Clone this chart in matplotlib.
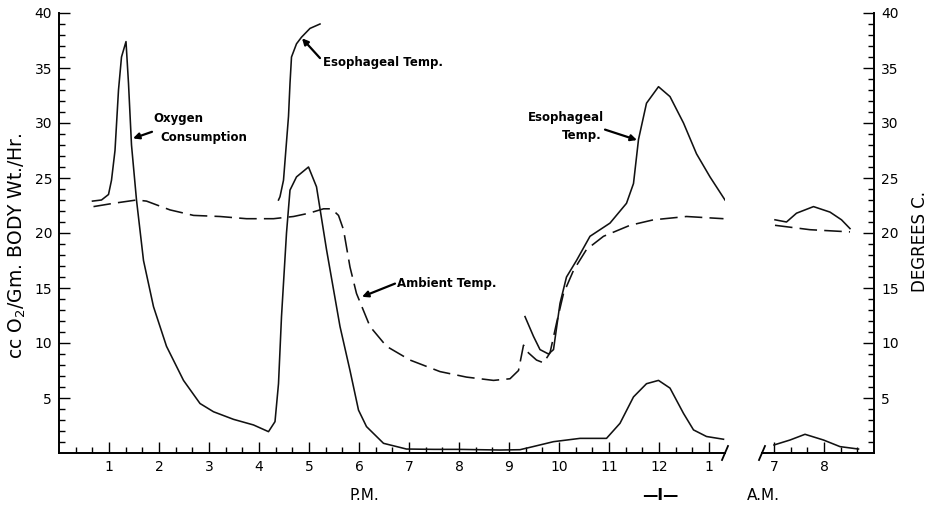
import matplotlib
matplotlib.use("Agg")
import matplotlib.pyplot as plt
import numpy as np
from matplotlib.ticker import FixedLocator

# Hours after noon (P.M. panel)
oxygen_pm_hr = [0.67, 0.85, 0.99, 1.05, 1.12, 1.19, 1.25, 1.34, 1.39, 1.45, 1.55,
                1.69, 1.89, 2.15, 2.49, 2.82, 3.09, 3.49, 3.89, 4.19, 4.32, 4.39,
                4.45, 4.55, 4.62, 4.75, 4.99, 5.15, 5.35, 5.62, 5.82, 5.99, 6.15,
                6.49, 6.95, 7.5, 8.0, 8.82, 9.22, 9.48, 9.89, 10.42, 10.95, 11.22,
                11.49, 11.75, 11.99, 12.22, 12.49, 12.69, 12.95, 13.29]
oxygen_pm = [22.9, 23.0, 23.5, 24.8, 27.5, 33.0, 36.0, 37.4, 33.6, 28.0, 23.0,
             17.5, 13.3, 9.7, 6.6, 4.5, 3.75, 3.06, 2.55, 1.94, 2.85, 6.3,
             12.4, 20.0, 23.9, 25.1, 26.0, 24.2, 18.5, 11.5, 7.5, 3.9, 2.4,
             0.88, 0.36, 0.33, 0.33, 0.27, 0.3, 0.58, 1.03, 1.33, 1.33, 2.7,
             5.1, 6.3, 6.6, 5.9, 3.6, 2.1, 1.5, 1.25]

ambient_pm_hr = [0.69, 1.09, 1.55, 1.75, 2.22, 2.69, 3.22, 3.75, 4.29, 4.69, 5.0,
                 5.29, 5.45, 5.59, 5.69, 5.82, 5.95, 6.22, 6.55, 7.02, 7.62, 8.15,
                 8.69, 9.02, 9.19, 9.29, 9.39, 9.55, 9.69, 9.82, 9.95, 10.09, 10.29,
                 10.55, 10.89, 11.42, 11.89, 12.55, 13.29]
ambient_pm = [22.4, 22.7, 23.0, 22.9, 22.1, 21.6, 21.5, 21.3, 21.3, 21.5, 21.8,
              22.2, 22.2, 21.6, 20.3, 16.9, 14.5, 11.5, 9.7, 8.45, 7.4, 6.9,
              6.6, 6.75, 7.5, 9.8, 9.1, 8.45, 8.2, 9.1, 11.8, 14.5, 16.6,
              18.5, 19.7, 20.7, 21.2, 21.5, 21.3]

esoph1_hr = [4.39, 4.42, 4.49, 4.59, 4.62, 4.65, 4.75, 4.85, 5.02, 5.22]
esoph1 = [23.0, 23.3, 24.8, 30.6, 33.6, 36.0, 37.2, 37.8, 38.6, 39.0]

esoph2_hr = [9.32, 9.49, 9.62, 9.79, 9.89, 10.02, 10.15, 10.35, 10.62, 11.02,
             11.35, 11.49, 11.59, 11.75, 11.99, 12.22, 12.49, 12.75, 13.02, 13.32]
esoph2 = [12.4, 10.6, 9.4, 9.0, 9.4, 13.6, 16.0, 17.5, 19.7, 20.9,
          22.7, 24.5, 28.5, 31.8, 33.3, 32.4, 30.0, 27.2, 25.1, 23.0]

# A.M. panel, clock hours
oxygen_am_hr = [7.0, 7.32, 7.62, 7.99, 8.32, 8.69]
oxygen_am = [0.73, 1.18, 1.7, 1.18, 0.58, 0.36]
esoph_am_hr = [7.02, 7.25, 7.45, 7.79, 8.12, 8.35, 8.52]
esoph_am = [21.2, 21.0, 21.8, 22.4, 21.9, 21.2, 20.4]
ambient_am_hr = [7.02, 7.72, 8.52]
ambient_am = [20.7, 20.3, 20.1]

pm_ticks = list(range(1, 14))
pm_labels = [str(h) for h in range(1, 13)] + ["1"]
am_ticks = [7, 8]
am_labels = ["7", "8"]
y_ticks = [5, 10, 15, 20, 25, 30, 35, 40]

plt.rcParams["font.family"] = "DejaVu Sans"

W, H = 931, 505
fig = plt.figure(figsize=(W / 100, H / 100), dpi=100)


def box(x0, x1):
    return [x0 / W, 52 / H, (x1 - x0) / W, 440 / H]


ax_pm = fig.add_axes(box(59, 725))
ax_am = fig.add_axes(box(762, 874))

solid = dict(color="#111111", lw=1.15)
dashed = dict(color="#111111", lw=1.15, dashes=(11, 4.5))

ax_pm.plot(oxygen_pm_hr, oxygen_pm, **solid)
ax_pm.plot(esoph1_hr, esoph1, **solid)
ax_pm.plot(esoph2_hr, esoph2, **solid)
ax_pm.plot(ambient_pm_hr, ambient_pm, **dashed)

ax_am.plot(oxygen_am_hr, oxygen_am, **solid)
ax_am.plot(esoph_am_hr, esoph_am, **solid)
ax_am.plot(ambient_am_hr, ambient_am, **dashed)

ax_pm.set_xlim(0, 13.32)
ax_am.set_xlim(6.76, 9.0)

for ax in (ax_pm, ax_am):
    ax.set_ylim(0, 40)
    ax.spines["top"].set_visible(False)
    for s in ax.spines.values():
        s.set_linewidth(1.4)
    ax.tick_params(which="both", direction="in", width=1.0, labelsize=10,
                   pad=5)
    ax.tick_params(which="major", length=8)
    ax.tick_params(which="minor", length=4)
    ax.yaxis.set_minor_locator(FixedLocator([v for v in range(1, 40) if v % 5]))
    ax.set_yticks(y_ticks)
    ax.set_yticklabels([str(v) for v in y_ticks])

ax_pm.spines["right"].set_visible(False)
ax_am.spines["left"].set_visible(False)
ax_am.tick_params(axis="y", which="both", left=False, right=True,
                  labelleft=False, labelright=True)

ax_pm.set_xticks(pm_ticks)
ax_pm.set_xticklabels(pm_labels)
ax_pm.xaxis.set_minor_locator(FixedLocator([k / 3 for k in range(1, 40) if k % 3]))
ax_am.set_xticks(am_ticks)
ax_am.set_xticklabels(am_labels)
ax_am.xaxis.set_minor_locator(FixedLocator([7 + k / 3 for k in range(0, 6) if k % 3]))

# axis break marks
ax_pm.plot([1 - 3 / 666, 1 + 3 / 666], [-7 / 440, 7 / 440], color="k", lw=1.3,
           transform=ax_pm.transAxes, clip_on=False)
ax_am.plot([-3 / 112, 3 / 112], [-7 / 440, 7 / 440], color="k", lw=1.3,
           transform=ax_am.transAxes, clip_on=False)

# annotations
afont = dict(fontsize=8.5, fontweight="bold", va="center", ha="left")
arrow = dict(arrowstyle="-|>", color="k", lw=1.6, mutation_scale=9,
             shrinkA=0, shrinkB=0)

ax_pm.text(1.88, 30.45, "Oxygen", **afont)
ax_pm.text(2.02, 28.7, "Consumption", **afont)
ax_pm.annotate("", xy=(1.48, 28.6), xytext=(1.86, 29.2), arrowprops=arrow)

ax_pm.text(5.28, 35.5, "Esophageal Temp.", **afont)
ax_pm.annotate("", xy=(4.86, 37.7), xytext=(5.22, 35.9), arrowprops=arrow)

ax_pm.text(6.76, 15.45, "Ambient Temp.", **afont)
ax_pm.annotate("", xy=(6.06, 14.2), xytext=(6.72, 15.4), arrowprops=arrow)

ax_pm.text(9.38, 30.5, "Esophageal", **afont)
ax_pm.text(10.06, 28.9, "Temp.", **afont)
ax_pm.annotate("", xy=(11.56, 28.45), xytext=(10.92, 29.4), arrowprops=arrow)

# axis titles
fig.text(17 / W, 1 - 246 / H, "cc O$_2$/Gm. BODY Wt./Hr.", rotation=90,
         ha="center", va="center", fontsize=13.5)
fig.text(920 / W, 1 - 241 / H, "DEGREES C.", rotation=90,
         ha="center", va="center", fontsize=12)
fig.text(364 / W, 1 - 495 / H, "P.M.", ha="center", va="center", fontsize=11)
fig.text(660 / W, 1 - 495 / H, "\u2014I\u2014", ha="center", va="center",
         fontsize=11, fontweight="bold")
fig.text(763 / W, 1 - 495 / H, "A.M.", ha="center", va="center", fontsize=11)

fig.savefig("out.png", dpi=100)
